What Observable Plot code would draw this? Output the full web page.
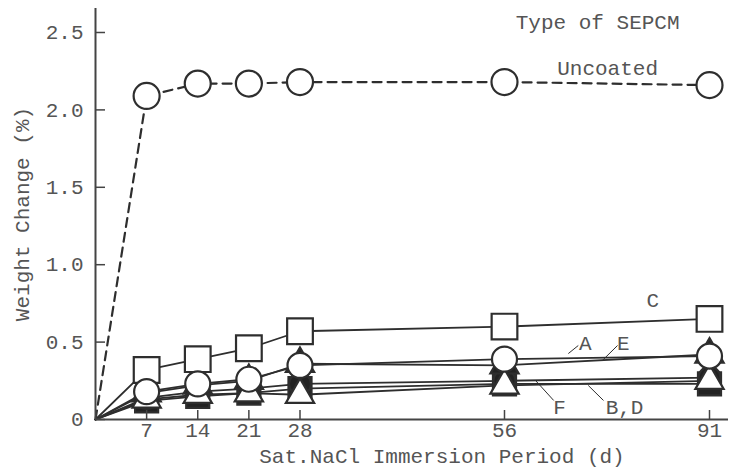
<!DOCTYPE html>
<html>
<head>
<meta charset="utf-8">
<script src="https://cdn.jsdelivr.net/npm/d3@7"></script>
<script src="https://cdn.jsdelivr.net/npm/@observablehq/plot@0.6"></script>
<style>
  html, body { margin: 0; padding: 0; background: #fff; }
</style>
</head>
<body>
<div id="chart"></div>
<script>
// ---- data ----
const days = [0, 7, 14, 21, 28, 56, 91];
const xTicks = [7, 14, 21, 28, 56, 91];
const yTicks = [0, 0.5, 1.0, 1.5, 2.0, 2.5];

const uncoated = [0, 2.09, 2.17, 2.17, 2.18, 2.18, 2.16];
const typeC    = [0, 0.32, 0.39, 0.46, 0.57, 0.60, 0.65];
const typeA    = [0, 0.18, 0.23, 0.26, 0.35, 0.39, 0.41];
const typeE    = [0, 0.17, 0.22, 0.25, 0.36, 0.35, 0.42];
const typeF    = [0, 0.13, 0.16, 0.17, 0.16, 0.22, 0.25];
const typeB    = [0, 0.12, 0.15, 0.17, 0.20, 0.23, 0.23];
const typeD    = [0, 0.14, 0.18, 0.20, 0.23, 0.25, 0.27];

const seriesNames = ["B", "D", "E", "F", "C", "A", "Uncoated"];
const seriesValues = [typeB, typeD, typeE, typeF, typeC, typeA, uncoated];

// labels (text, day, value)
const labelText = ["Type of SEPCM", "Uncoated", "C", "A", "E", "F", "B,D"];
const labelDay  = [71.9, 73.6, 81.3, 69.8, 76.3, 65.4, 76.5];
const labelVal  = [2.565, 2.27, 0.77, 0.49, 0.49, 0.078, 0.078];

// leader lines for labels
const leaderDay1 = [66.9, 72.7, 61.3, 70.3];
const leaderVal1 = [0.426, 0.381, 0.252, 0.220];
const leaderDay2 = [68.6, 75.3, 64.4, 72.9];
const leaderVal2 = [0.478, 0.478, 0.123, 0.123];

const xLabel = "Sat.NaCl Immersion Period (d)";
const yLabel = "Weight Change (%)";

// ---- styles (not data) ----
const styleOf = {
  B:        {symbol: "square",   r: 13,  fill: "#222", dash: null},
  D:        {symbol: "circle",   r: 11,  fill: "#222", dash: null},
  E:        {symbol: "triangle", r: 10.5, fill: "#222", dash: null},
  F:        {symbol: "triangle", r: 10.5, fill: "#fff", dash: null},
  C:        {symbol: "square",   r: 14.5, fill: "#fff", dash: null},
  A:        {symbol: "circle",   r: 12.5, fill: "#fff", dash: null},
  Uncoated: {symbol: "circle",   r: 13, fill: "#fff", dash: "9,6"}
};

// the original axis is compressed after day 56
const breakDay = 56;
const compress = 0.802;
const axisTransform = d => d <= breakDay ? d : breakDay + (d - breakDay) * compress;
const axisInverse = t => t <= breakDay ? t : breakDay + (t - breakDay) / compress;

const rows = [];
seriesNames.forEach((s, i) => {
  days.forEach((d, j) => rows.push({series: s, day: d, value: seriesValues[i][j]}));
});
const labels = labelText.map((t, i) => ({text: t, day: labelDay[i], value: labelVal[i]}));
const leaders = leaderDay1.map((d, i) => ({x1: d, y1: leaderVal1[i], x2: leaderDay2[i], y2: leaderVal2[i]}));

// axis ticks live in the scale's transformed space
const xTickPos = xTicks.map(axisTransform);
const xTickFmt = t => String(Math.round(axisInverse(t)));

const ink = "#2e2e2e";
const marks = [];

// lines
seriesNames.forEach(s => {
  const st = styleOf[s];
  marks.push(Plot.line(rows.filter(r => r.series === s), {
    x: "day", y: "value", stroke: ink,
    strokeWidth: s === "Uncoated" ? 2.2 : 1.8,
    strokeDasharray: st.dash || undefined
  }));
});

// axes lines
marks.push(Plot.ruleY([0], {stroke: "#444", strokeWidth: 2}));
marks.push(Plot.ruleX([0], {stroke: "#444", strokeWidth: 2}));

// markers
seriesNames.forEach(s => {
  const st = styleOf[s];
  marks.push(Plot.dot(rows.filter(r => r.series === s && r.day > 0), {
    x: "day", y: "value", symbol: () => st.symbol, r: st.r,
    fill: st.fill, stroke: ink, strokeWidth: 2.2
  }));
});

// axes
marks.push(Plot.axisY({ticks: yTicks, tickSize: 10, dx: 10, tickFormat: () => "", stroke: "#444", strokeWidth: 1.5}));
marks.push(Plot.axisY({ticks: yTicks, tickSize: 0, tickPadding: 12, label: null,
  tickFormat: d => d === 0 ? "0" : d.toFixed(1)}));
marks.push(Plot.axisX({ticks: xTickPos, tickSize: 9, dy: -9, tickFormat: () => "", label: null, stroke: "#444", strokeWidth: 1.5}));
marks.push(Plot.axisX({ticks: xTickPos, tickSize: 0, tickPadding: 3, label: null, tickFormat: xTickFmt}));

// axis titles
marks.push(Plot.text([xLabel], {frameAnchor: "bottom", dy: 43, dx: 30, text: d => d}));
marks.push(Plot.text([yLabel], {frameAnchor: "left", dx: -73, rotate: -90, textAnchor: "middle", text: d => d}));

// annotations
marks.push(Plot.link(leaders, {x1: "x1", y1: "y1", x2: "x2", y2: "y2", stroke: ink, strokeWidth: 1}));
marks.push(Plot.text(labels, {x: "day", y: "value", text: "text"}));

const chart = Plot.plot({
  width: 732,
  height: 474,
  marginLeft: 95,
  marginRight: 4,
  marginTop: 8,
  marginBottom: 55,
  style: {fontFamily: "'Liberation Mono', 'DejaVu Sans Mono', monospace", fontSize: "21px", color: "#555", background: "#fff"},
  x: {transform: axisTransform, domain: [0, axisTransform(91)], range: [95, 709]},
  y: {domain: [0, 2.655]},
  marks
});
document.getElementById("chart").appendChild(chart);
</script>
</body>
</html>
